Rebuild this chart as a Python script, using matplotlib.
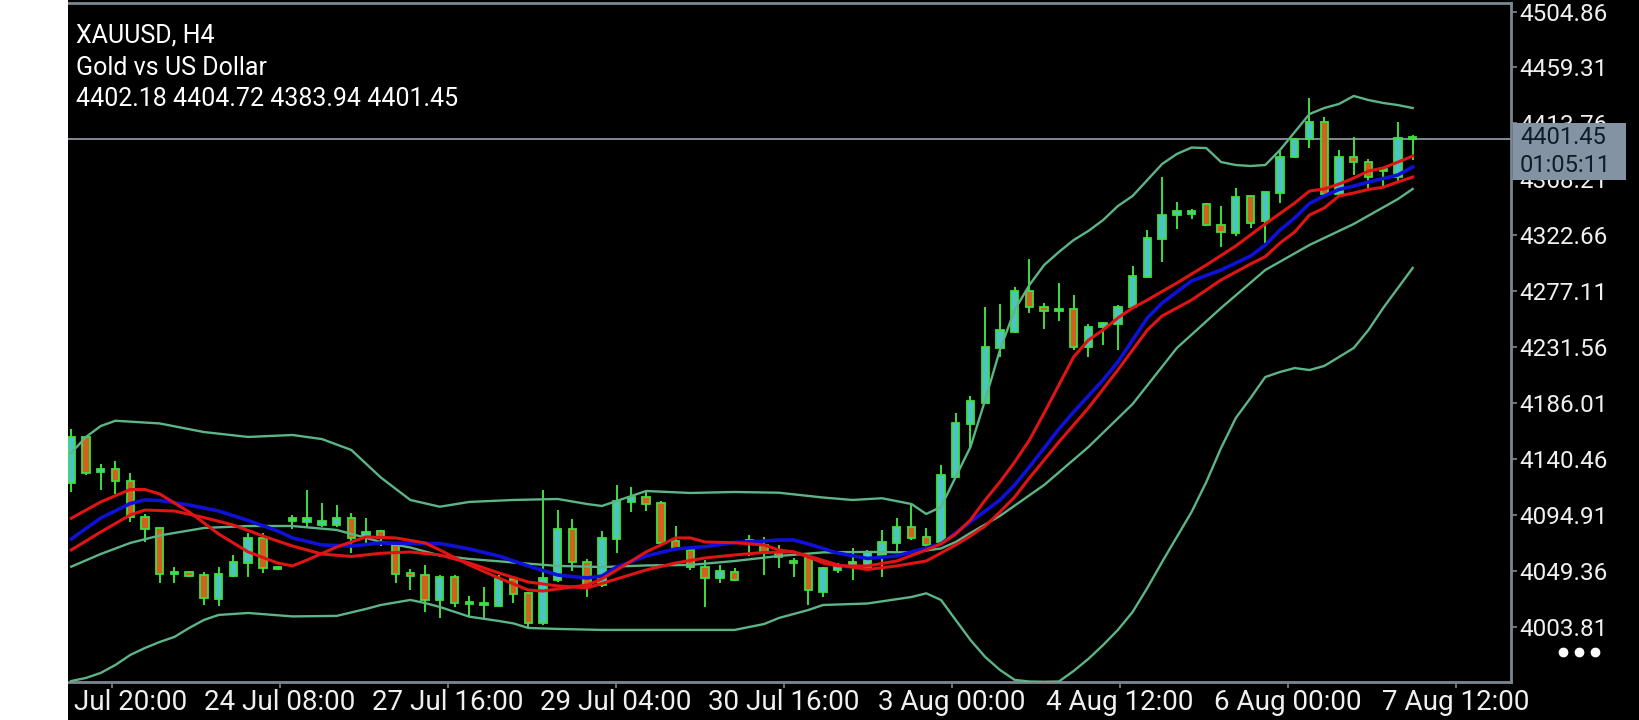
import matplotlib
matplotlib.use("Agg")
import matplotlib.pyplot as plt
from matplotlib.patches import Rectangle
from matplotlib.lines import Line2D
from matplotlib import font_manager

# ---------------- data ----------------
opens = [4120.8, 4158.2, 4130.2, 4132.2, 4122.9, 4093.6, 4084.2, 4046.9, 4048.8, 4046.1,
         4026.6, 4045.6, 4055.7, 4076.0, 4052.9, 4090.1, 4089.5, 4086.8, 4086.8, 4092.3,
         4077.3, 4082.0, 4070.6, 4048.0, 4046.1, 4025.8, 4044.8, 4022.5, 4021.5, 4020.9,
         4042.6, 4031.2, 4007.3, 4042.1, 4083.6, 4057.0, 4038.0, 4075.2, 4105.8, 4109.9,
         4105.0, 4074.1, 4066.5, 4052.4, 4043.4, 4048.8, 4073.2, 4070.6, 4063.8, 4057.0,
         4061.0, 4032.5, 4050.2, 4052.4, 4052.9, 4062.4, 4072.2, 4085.5, 4076.8, 4073.2,
         4126.2, 4169.1, 4186.4, 4230.7, 4244.2, 4277.6, 4264.6, 4261.3, 4262.4, 4231.5,
         4247.8, 4250.5, 4263.9, 4288.5, 4319.4, 4339.2, 4340.0, 4348.2, 4331.1, 4324.3,
         4354.7, 4334.6, 4356.9, 4386.1, 4400.8, 4415.2, 4356.3, 4386.7, 4382.6, 4375.8,
         4369.9, 4402.18]
highs = [4164.7, 4158.7, 4136.2, 4139.2, 4128.9, 4095.5, 4084.6, 4052.9, 4049.6, 4048.8,
         4052.9, 4062.4, 4080.1, 4080.1, 4053.1, 4095.0, 4115.3, 4104.5, 4103.1, 4096.4,
         4092.3, 4082.8, 4071.9, 4050.8, 4054.3, 4046.1, 4046.1, 4029.0, 4036.1, 4046.1,
         4043.4, 4032.5, 4115.3, 4099.0, 4091.7, 4058.9, 4082.0, 4119.4, 4118.0, 4115.3,
         4106.0, 4086.0, 4067.1, 4058.3, 4054.3, 4051.6, 4078.7, 4077.3, 4070.6, 4059.7,
         4064.0, 4052.9, 4055.7, 4067.9, 4066.5, 4082.8, 4092.3, 4104.7, 4084.2, 4135.7,
         4178.3, 4191.9, 4264.1, 4266.7, 4280.3, 4303.1, 4267.3, 4283.6, 4274.1, 4250.5,
         4252.3, 4265.9, 4297.3, 4327.0, 4370.5, 4350.0, 4343.8, 4349.2, 4346.5, 4360.9,
         4355.5, 4358.2, 4391.5, 4401.6, 4434.2, 4419.2, 4392.1, 4402.9, 4384.5, 4377.2,
         4415.2, 4404.72]
lows = [4113.9, 4127.5, 4115.3, 4112.1, 4089.5, 4072.8, 4039.4, 4039.9, 4044.8, 4021.7,
        4021.1, 4044.3, 4044.3, 4048.0, 4050.6, 4083.3, 4084.2, 4085.5, 4085.5, 4064.3,
        4071.4, 4069.7, 4039.4, 4033.9, 4016.3, 4010.9, 4020.3, 4012.8, 4009.5, 4019.8,
        4023.6, 4004.0, 4005.4, 4040.7, 4049.6, 4028.5, 4036.6, 4064.3, 4097.7, 4098.5,
        4071.4, 4066.5, 4050.2, 4019.8, 4039.9, 4041.5, 4061.6, 4046.1, 4051.6, 4044.8,
        4021.7, 4028.5, 4048.0, 4042.1, 4052.4, 4044.8, 4063.8, 4074.6, 4067.3, 4071.9,
        4124.9, 4149.3, 4185.3, 4223.8, 4243.4, 4259.7, 4246.4, 4253.2, 4229.3, 4223.4,
        4233.4, 4229.3, 4262.3, 4287.7, 4301.2, 4327.6, 4335.7, 4330.2, 4312.9, 4322.1,
        4328.4, 4316.2, 4349.2, 4385.3, 4393.5, 4355.5, 4355.5, 4371.8, 4360.9, 4361.7,
        4367.1, 4383.94]
closes = [4158.2, 4128.9, 4132.2, 4122.7, 4093.6, 4083.3, 4046.9, 4048.0, 4045.3, 4027.2,
          4046.9, 4056.5, 4076.0, 4051.6, 4050.8, 4092.3, 4092.3, 4090.1, 4092.3, 4076.0,
          4081.4, 4076.0, 4046.9, 4045.3, 4025.8, 4044.8, 4023.1, 4024.4, 4023.1, 4042.6,
          4030.7, 4007.3, 4043.4, 4083.6, 4057.0, 4036.6, 4076.0, 4106.6, 4109.9, 4103.9,
          4072.4, 4067.1, 4052.4, 4043.4, 4049.6, 4042.1, 4074.1, 4063.8, 4060.5, 4055.7,
          4033.9, 4051.6, 4054.3, 4057.0, 4064.5, 4073.2, 4085.5, 4076.0, 4070.6, 4127.5,
          4170.1, 4187.8, 4231.5, 4245.6, 4277.6, 4264.1, 4261.3, 4262.4, 4231.5, 4248.3,
          4251.5, 4264.6, 4289.3, 4320.2, 4339.6, 4342.7, 4342.7, 4331.1, 4325.6, 4354.1,
          4332.9, 4357.7, 4386.7, 4400.8, 4415.2, 4356.3, 4386.7, 4382.6, 4369.9, 4375.0,
          4402.0, 4401.45]

# Bollinger bands (bar index / price)
bb_up_bar = [0, 1, 2, 3, 6, 9, 12, 15, 17, 19, 21, 23, 25, 27, 30, 33, 35, 36, 37, 39,
             42, 45, 48, 51, 53, 55, 57, 58, 59, 60, 61, 62, 63, 64, 65, 66, 67, 68, 69,
             70, 71, 72, 73, 74, 75, 76, 77, 78, 79, 80, 81, 82, 83, 84, 85, 86, 87, 88,
             89, 90, 91]
bb_up_val = [4145.5, 4158.5, 4167.4, 4171.7, 4169.5, 4162.5, 4158.5, 4160.1, 4156.8,
             4147.9, 4125.5, 4107.2, 4101.7, 4105.6, 4107.2, 4108.0, 4103.9, 4102.3,
             4106.4, 4114.5, 4112.9, 4113.7, 4113.1, 4109.2, 4107.2, 4108.6, 4103.9,
             4095.8, 4101.5, 4125.9, 4150.3, 4188.6, 4229.3, 4261.9, 4282.2, 4298.5,
             4309.1, 4318.8, 4326.2, 4335.1, 4346.5, 4354.7, 4367.7, 4380.7, 4388.9,
             4394.1, 4393.7, 4382.3, 4379.9, 4379.1, 4379.9, 4392.1, 4406.8, 4421.4,
             4426.3, 4429.6, 4436.1, 4432.8, 4430.4, 4428.7, 4426.3]
bb_mid_bar = [0, 2, 4, 6, 9, 12, 15, 18, 20, 21, 23, 25, 27, 30, 33, 36, 39, 42, 45, 48,
              51, 54, 57, 59, 60, 61, 63, 66, 69, 72, 75, 78, 81, 84, 87, 90, 91]
bb_mid_val = [4052.9, 4063.2, 4072.2, 4078.3, 4084.4, 4086.0, 4086.0, 4082.8, 4076.3,
              4073.0, 4068.5, 4062.0, 4059.2, 4056.3, 4053.5, 4052.6, 4053.9, 4054.3,
              4057.5, 4061.6, 4064.5, 4064.9, 4064.5, 4067.7, 4073.0, 4080.3, 4094.2,
              4119.4, 4150.3, 4185.3, 4230.9, 4263.5, 4294.4, 4314.8, 4331.9, 4352.2,
              4360.4]
bb_low_bar = [0, 1, 2, 3, 4, 5, 6, 7, 8, 9, 10, 12, 15, 18, 20, 21, 23, 24, 25, 27, 29,
              30, 31, 33, 36, 39, 42, 45, 47, 48, 50, 51, 54, 57, 58, 59, 60, 61, 62, 63,
              64, 65, 66, 67, 68, 69, 70, 71, 72, 73, 74, 75, 76, 77, 78, 79, 80, 81, 82,
              83, 84, 85, 86, 87, 88, 89, 90, 91]
bb_low_val = [3959.8, 3962.3, 3966.4, 3972.9, 3981.0, 3986.7, 3991.6, 3995.7, 4003.0,
              4009.5, 4013.6, 4015.2, 4012.4, 4012.8, 4018.5, 4021.7, 4025.8, 4023.3,
              4020.1, 4012.2, 4008.7, 4006.7, 4003.0, 4002.2, 4001.4, 4001.4, 4001.4,
              4001.4, 4006.2, 4011.1, 4017.6, 4021.7, 4022.9, 4028.2, 4031.2, 4025.8,
              4009.5, 3993.2, 3979.4, 3968.8, 3960.7, 3959.4, 3959.2, 3959.4, 3968.0,
              3977.8, 3989.1, 4001.4, 4016.0, 4035.6, 4056.7, 4077.1, 4097.4, 4121.8,
              4149.5, 4173.9, 4190.2, 4207.3, 4211.4, 4214.6, 4213.0, 4216.3, 4223.6,
              4230.9, 4245.6, 4263.5, 4279.8, 4296.1]

# moving averages
ma_blue_bar = [0, 2, 4, 5, 6, 8, 10, 12, 14, 15, 17, 19, 21, 23, 25, 27, 29, 31, 33, 35,
               36, 37, 39, 41, 43, 45, 47, 48, 49, 50, 52, 54, 56, 58, 59, 60, 61, 62, 63,
               64, 65, 66, 67, 68, 69, 70, 71, 72, 73, 74, 76, 78, 79, 80, 81, 82, 83, 84,
               85, 86, 87, 88, 89, 90, 91]
ma_blue_val = [4075.4, 4092.5, 4104.3, 4107.2, 4106.8, 4103.1, 4098.2, 4090.5, 4082.0,
               4076.3, 4070.6, 4069.7, 4072.2, 4071.8, 4071.8, 4067.3, 4061.6, 4053.5,
               4046.1, 4043.7, 4045.3, 4052.6, 4061.6, 4067.3, 4069.2, 4072.6, 4073.8,
               4074.6, 4074.6, 4071.4, 4064.0, 4059.6, 4061.6, 4068.1, 4071.4, 4080.3,
               4089.3, 4098.2, 4107.2, 4119.4, 4134.1, 4149.5, 4165.0, 4178.8, 4191.9,
               4204.9, 4219.5, 4237.4, 4255.4, 4267.6, 4285.5, 4294.4, 4300.1, 4305.8,
               4314.8, 4327.0, 4336.8, 4348.6, 4354.7, 4360.0, 4362.8, 4366.1, 4368.9,
               4371.8, 4378.3]
ma_red1_bar = [0, 2, 4, 5, 6, 8, 9, 10, 12, 14, 15, 16, 18, 20, 22, 24, 25, 27, 29, 31,
               32, 34, 35, 36, 37, 39, 41, 42, 43, 45, 47, 48, 49, 50, 51, 52, 54, 56, 58,
               59, 60, 61, 62, 63, 64, 65, 66, 67, 68, 69, 70, 71, 72, 73, 75, 77, 79, 81,
               83, 84, 85, 86, 87, 88, 89, 90, 91]
ma_red1_val = [4092.3, 4105.6, 4115.7, 4115.7, 4112.1, 4097.4, 4088.5, 4079.5, 4064.9,
               4055.9, 4053.5, 4058.3, 4068.9, 4077.1, 4076.3, 4072.2, 4066.5, 4054.3,
               4043.7, 4033.9, 4033.1, 4036.4, 4038.0, 4042.9, 4050.2, 4064.9, 4076.3,
               4076.3, 4073.0, 4072.4, 4070.6, 4066.5, 4064.9, 4060.8, 4055.9, 4053.5,
               4053.5, 4057.5, 4066.5, 4071.4, 4079.5, 4090.9, 4107.2, 4121.8, 4138.1,
               4156.0, 4178.0, 4200.8, 4223.6, 4237.4, 4245.6, 4255.4, 4263.5, 4270.0,
               4283.8, 4298.5, 4314.0, 4331.9, 4349.0, 4358.7, 4360.4, 4364.4, 4369.3,
               4375.0, 4377.5, 4382.3, 4387.2]
ma_red2_bar = [0, 2, 4, 5, 7, 9, 11, 13, 15, 17, 19, 21, 23, 25, 27, 29, 31, 33, 35, 37,
               39, 41, 43, 45, 47, 49, 50, 52, 54, 56, 58, 59, 60, 61, 62, 63, 64, 65, 66,
               67, 68, 69, 70, 71, 72, 73, 74, 76, 78, 80, 81, 82, 83, 84, 85, 86, 87, 88,
               89, 90, 91]
ma_red2_val = [4066.5, 4081.1, 4095.0, 4099.0, 4098.2, 4092.9, 4086.8, 4077.9, 4069.7,
               4063.2, 4061.2, 4063.8, 4064.9, 4062.4, 4055.9, 4047.8, 4040.4, 4037.2,
               4035.6, 4042.9, 4050.2, 4055.9, 4060.0, 4062.4, 4064.5, 4064.9, 4061.6,
               4054.3, 4050.6, 4053.5, 4057.5, 4064.0, 4070.6, 4077.9, 4086.0, 4097.4,
               4109.6, 4125.1, 4139.7, 4154.4, 4168.2, 4182.1, 4197.5, 4213.0, 4229.3,
               4245.6, 4257.0, 4270.0, 4286.3, 4299.3, 4305.3, 4316.4, 4325.4, 4339.2,
               4344.9, 4354.7, 4357.1, 4360.0, 4361.8, 4366.1, 4370.1]

x_tick_pos = [2.75, 14.15, 25.55, 36.95, 48.35, 59.75, 71.15, 82.55, 93.95]
x_tick_labels = ["22 Jul 20:00", "24 Jul 08:00", "27 Jul 16:00", "29 Jul 04:00",
                 "30 Jul 16:00", "3 Aug 00:00", "4 Aug 12:00", "6 Aug 00:00", "7 Aug 12:00"]
y_tick_vals = [4003.81, 4049.36, 4094.91, 4140.46, 4186.01, 4231.56, 4277.11,
               4322.66, 4368.21, 4413.76, 4459.31, 4504.86]

symbol = "XAUUSD, H4"
description = "Gold vs US Dollar"
ohlc_text = "4402.18 4404.72 4383.94 4401.45"
last_price = 4401.45
timer_text = "01:05:11"

# ---------------- fonts ----------------
names = {f.name for f in font_manager.fontManager.ttflist}
main_font = "Roboto" if "Roboto" in names else "DejaVu Sans"
narrow_font = "Liberation Sans Narrow" if "Liberation Sans Narrow" in names else main_font

# ---------------- figure ----------------
W, H = 1640, 720
fig = plt.figure(figsize=(W / 100, H / 100), dpi=100, facecolor="black")
ax = fig.add_axes([68 / W, 38 / H, (1511 - 68) / W, (717 - 38) / H])
ax.set_facecolor("black")

frame_col = "#7c8794"
bull_fill = "#4cc3c6"
bear_fill = "#d2601e"
edge_green = "#3ee03e"
bb_col = "#5cb487"

n = len(opens)
xs = list(range(n))

# current price line
ax.axhline(last_price, color="#9aa2ae", lw=1.2, zorder=1)

# wicks
ax.vlines(xs, lows, highs, colors=edge_green, lw=1.4, zorder=2)
# bodies
bottoms = [min(o, c) for o, c in zip(opens, closes)]
heights = [max(abs(c - o), 1.6) for o, c in zip(opens, closes)]
fills = [bull_fill if c >= o else bear_fill for o, c in zip(opens, closes)]
ax.bar(xs, heights, bottom=bottoms, width=0.5, color=fills, edgecolor=edge_green,
       linewidth=1.3, zorder=3)

# indicators
for bx, by in ((bb_up_bar, bb_up_val), (bb_mid_bar, bb_mid_val), (bb_low_bar, bb_low_val)):
    ax.plot(bx, by, color=bb_col, lw=1.7, zorder=4, solid_joinstyle="round")
ax.plot(ma_red2_bar, ma_red2_val, color="#e01414", lw=2.2, zorder=5)
ax.plot(ma_blue_bar, ma_blue_val, color="#1010d8", lw=2.6, zorder=6)
ax.plot(ma_red1_bar, ma_red1_val, color="#e01414", lw=2.2, zorder=7)

ax.set_xlim(-0.22, 97.67)
ax.set_ylim(3959.0, 4511.8)

# axes styling
for side in ("top", "right", "bottom"):
    ax.spines[side].set_color(frame_col)
    ax.spines[side].set_linewidth(2.0)
ax.spines["left"].set_visible(False)

ax.yaxis.tick_right()
ax.set_yticks(y_tick_vals)
ax.set_yticklabels([f"{v:.2f}" for v in y_tick_vals])
ax.tick_params(axis="y", which="both", direction="out", length=4, width=1.2,
               color=frame_col, labelcolor="#f0f0f0", labelsize=17.5, pad=2, left=False)
for lab in ax.get_yticklabels():
    lab.set_fontfamily(main_font)

ax.set_xticks(x_tick_pos)
ax.set_xticklabels(x_tick_labels)
ax.tick_params(axis="x", direction="out", length=4, width=1.2, color=frame_col,
               labelcolor="#f0f0f0", labelsize=20, pad=1)
for lab in ax.get_xticklabels():
    lab.set_fontfamily(narrow_font)

# header text
fig.text(76 / W, 1 - 43 / H, symbol, color="white", fontsize=18, family=main_font,
         va="baseline", ha="left")
fig.text(76 / W, 1 - 75 / H, description, color="white", fontsize=18, family=main_font,
         va="baseline", ha="left")
fig.text(76 / W, 1 - 106 / H, ohlc_text, color="white", fontsize=18, family=main_font,
         va="baseline", ha="left")

# price box on the right
fig.patches.append(Rectangle((1513 / W, 1 - 180 / H), 113 / W, 57 / H,
                             transform=fig.transFigure, facecolor="#8493a4",
                             edgecolor="none", zorder=10))
fig.text(1520 / W, 1 - 137 / H, f"{last_price:.2f}", color="#0f1c2a", fontsize=17,
         family=main_font, va="center", ha="left", zorder=11)
fig.text(1520 / W, 1 - 165 / H, timer_text, color="#0f1c2a", fontsize=17,
         family=main_font, va="center", ha="left", zorder=11)

# three dots
fig.add_artist(Line2D([1563 / W, 1579 / W, 1595 / W], [1 - 652 / H] * 3,
                      transform=fig.transFigure, marker="o", linestyle="none",
                      color="white", markersize=6, zorder=11))

# white strip on the left
fig.patches.append(Rectangle((0, 0), 68 / W, 1, transform=fig.transFigure,
                             facecolor="white", edgecolor="none", zorder=20))

fig.savefig("out.png", dpi=100, facecolor="black")
